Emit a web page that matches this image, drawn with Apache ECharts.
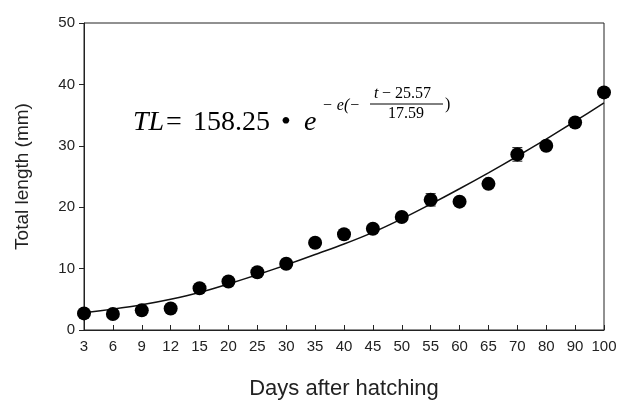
<!DOCTYPE html>
<html>
<head>
<meta charset="utf-8">
<script src="https://cdn.jsdelivr.net/npm/echarts@6/dist/echarts.min.js"></script>
<style>html,body{margin:0;padding:0;background:#fff}#c{width:622px;height:405px}</style>
</head>
<body>
<div id="c"></div>
<script>
var days = ['3','6','9','12','15','20','25','30','35','40','45','50','55','60','65','70','80','90','100'];
var meanTL = [2.7,2.6,3.2,3.5,6.8,7.9,9.4,10.8,14.2,15.6,16.5,18.4,21.2,20.9,23.8,28.6,30.0,33.8,38.7];
var errTL = [0.2,0.2,0.2,0.2,0.3,0.3,0.3,0.3,0.3,0.3,0.3,0.3,1.0,0.4,0.5,1.1,0.5,0.4,0.3];
var fitTL = [2.8,3.4,4.1,5.0,6.1,7.5,9.0,10.6,12.3,14.0,15.9,18.1,20.5,23.0,25.6,28.3,31.1,34.0,37.0];
var yTicks = [0,10,20,30,40,50];

var chart = echarts.init(document.getElementById('c'));
var errData = days.map(function(d,i){ return [i, meanTL[i]-errTL[i], meanTL[i]+errTL[i]]; });
var txtColor = '#222';
chart.setOption({
  animation: false,
  grid: {left: 84, right: 18, top: 23, bottom: 67, show: true, borderColor: '#222', borderWidth: 1, backgroundColor: 'transparent'},
  xAxis: {
    type: 'category', data: days, boundaryGap: false,
    name: 'Days after hatching', nameLocation: 'middle', nameGap: 48,
    nameTextStyle: {fontFamily: 'Liberation Sans', fontSize: 22, color: txtColor},
    axisLine: {lineStyle: {color: '#222', width: 1}},
    axisTick: {inside: true, length: 5, alignWithLabel: true, lineStyle: {color: '#222'}},
    axisLabel: {fontFamily: 'Liberation Sans', fontSize: 15, color: txtColor, margin: 9, interval: 0},
    splitLine: {show: false}
  },
  yAxis: {
    type: 'value', min: yTicks[0], max: yTicks[yTicks.length-1], interval: 10,
    name: 'Total length (mm)', nameLocation: 'middle', nameGap: 52, nameRotate: 90,
    nameTextStyle: {fontFamily: 'Liberation Sans', fontSize: 19, color: txtColor},
    axisLine: {show: true, lineStyle: {color: '#222', width: 1}},
    axisTick: {show: true, inside: false, length: 5, lineStyle: {color: '#222'}},
    axisLabel: {fontFamily: 'Liberation Sans', fontSize: 15, color: txtColor, margin: 9},
    splitLine: {show: false}
  },
  graphic: [
    {type: 'text', left: 133, top: 109, style: {text: 'TL', font: 'italic 28px "Liberation Serif"', fill: '#000'}},
    {type: 'text', left: 166, top: 109, style: {text: '=', font: '28px "Liberation Serif"', fill: '#000'}},
    {type: 'text', left: 193, top: 109, style: {text: '158.25', font: '28px "Liberation Serif"', fill: '#000'}},
    {type: 'text', left: 281, top: 109, style: {text: '•', font: '28px "Liberation Serif"', fill: '#000'}},
    {type: 'text', left: 304, top: 109, style: {text: 'e', font: 'italic 28px "Liberation Serif"', fill: '#000'}},
    {type: 'text', left: 322, top: 98, style: {text: '− e(−', font: 'italic 16px "Liberation Serif"', fill: '#000'}},
    {type: 'text', left: 374, top: 86, style: {text: 't', font: 'italic 16px "Liberation Serif"', fill: '#000'}},
    {type: 'text', left: 382, top: 86, style: {text: '− 25.57', font: '16px "Liberation Serif"', fill: '#000'}},
    {type: 'line', shape: {x1: 370, y1: 104, x2: 443, y2: 104}, style: {stroke: '#000', lineWidth: 1}},
    {type: 'text', left: 388, top: 106, style: {text: '17.59', font: '16px "Liberation Serif"', fill: '#000'}},
    {type: 'text', left: 445, top: 97, style: {text: ')', font: '16px "Liberation Serif"', fill: '#000'}}
  ],
  series: [
    {type: 'line', data: fitTL, smooth: 0.3, showSymbol: false, symbol: 'none',
     lineStyle: {color: '#111', width: 1.5}, z: 2},
    {type: 'custom', data: errData, z: 3,
     renderItem: function(params, api){
       var x = api.value(0);
       var lo = api.coord([x, api.value(1)]);
       var hi = api.coord([x, api.value(2)]);
       var w = 5;
       return {type: 'group', children: [
         {type: 'line', shape: {x1: lo[0], y1: lo[1], x2: hi[0], y2: hi[1]}, style: {stroke: '#111', lineWidth: 1}},
         {type: 'line', shape: {x1: lo[0]-w, y1: lo[1], x2: lo[0]+w, y2: lo[1]}, style: {stroke: '#111', lineWidth: 1}},
         {type: 'line', shape: {x1: hi[0]-w, y1: hi[1], x2: hi[0]+w, y2: hi[1]}, style: {stroke: '#111', lineWidth: 1}}
       ]};
     }},
    {type: 'scatter', data: meanTL, symbol: 'circle', symbolSize: 14,
     itemStyle: {color: '#000', opacity: 1}, z: 4}
  ]
});
</script>
</body>
</html>
